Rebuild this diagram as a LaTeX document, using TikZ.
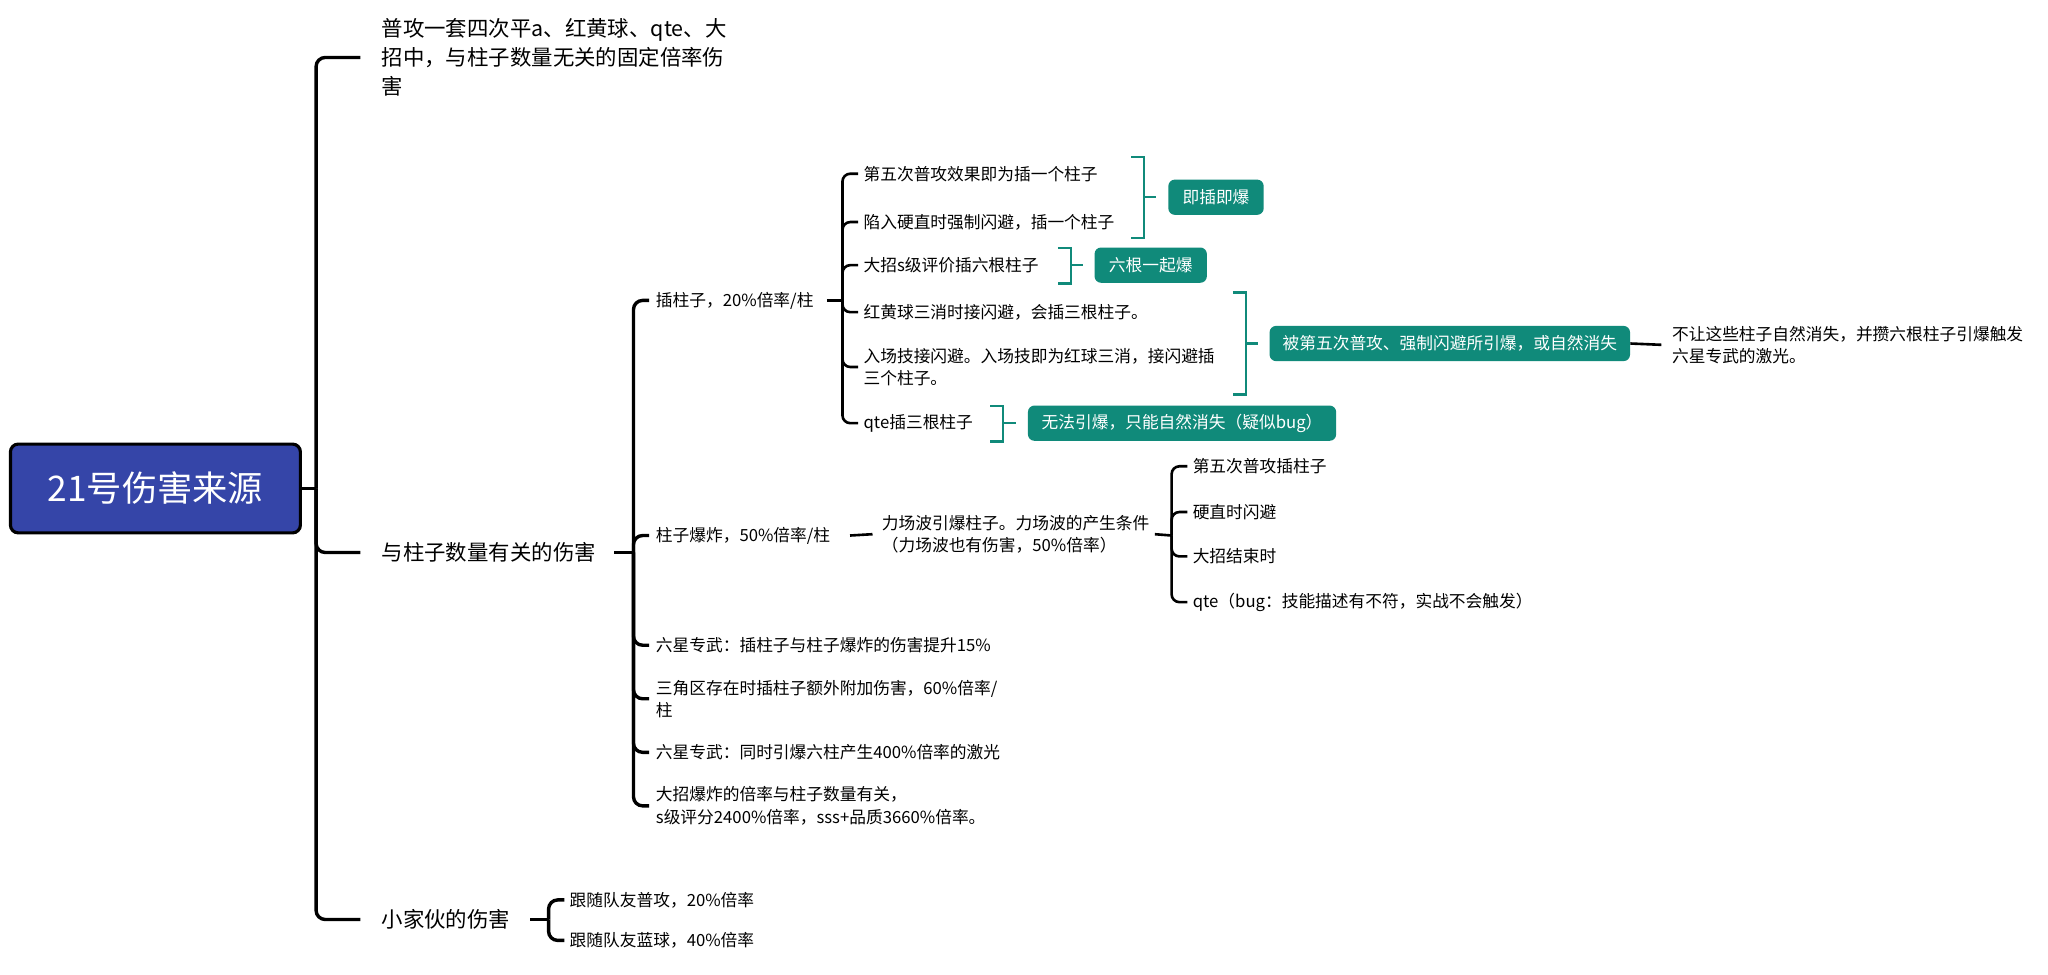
\documentclass[tikz,border=0pt]{standalone}
\usepackage{fontspec}
\setmainfont{Noto Sans CJK SC}
\definecolor{rootblue}{RGB}{53,69,168}
\definecolor{tealc}{RGB}{16,138,122}
\begin{document}
\begin{tikzpicture}[x=1pt,y=-1pt,
  conn/.style={line width=2.6pt, rounded corners=7pt},
  conn2/.style={line width=2pt, rounded corners=6pt},
  tline/.style={draw=tealc, line width=1.8pt},
  l1/.style={anchor=west, inner sep=0pt, font=\fontsize{16.4}{22}\selectfont, align=left},
  l2/.style={anchor=west, inner sep=0pt, font=\fontsize{12.8}{17}\selectfont, align=left},
  sumbox/.style={fill=tealc, rounded corners=5pt, text=white, font=\fontsize{12.8}{15}\selectfont, minimum height=27pt, inner xsep=8pt},
]
\useasboundingbox (0,0) rectangle (1568,746);
\fill[white] (0,0) rectangle (1568,746);

% root
\node[draw=black, line width=2.4pt, fill=rootblue, rounded corners=6pt, minimum width=222pt, minimum height=68pt, text=white, font=\fontsize{27}{30}\selectfont] (root) at (119,374) {21号伤害来源};

% level 1
\node[l1] (n1) at (292,44) {普攻一套四次平a、红黄球、qte、大\\招中，与柱子数量无关的固定倍率伤\\害};
\node[l1] (n2) at (292,423) {与柱子数量有关的伤害};
\node[l1] (n3) at (292,704) {小家伙的伤害};
\coordinate (t1) at (242,374);
\draw[conn] (root.east) -- (t1);
\foreach \c in {n1,n2,n3} \draw[conn] (t1) |- ([xshift=-16pt]\c.west);

% level 2
\node[l2] (a1) at (502,230) {插柱子，20\%倍率/柱};
\node[l2] (a2) at (502,410) {柱子爆炸，50\%倍率/柱};
\node[l2] (a3) at (502,494) {六星专武：插柱子与柱子爆炸的伤害提升15\%};
\node[l2] (a4) at (502,535) {三角区存在时插柱子额外附加伤害，60\%倍率/\\柱};
\node[l2] (a5) at (502,576) {六星专武：同时引爆六柱产生400\%倍率的激光};
\node[l2] (a6) at (502,617) {大招爆炸的倍率与柱子数量有关，\\s级评分2400\%倍率，sss+品质3660\%倍率。};
\coordinate (t2) at (485,423);
\draw[conn] ([xshift=14pt]n2.east) -- (t2);
\foreach \c in {a1,a2,a3,a4,a5,a6} \draw[conn] (t2) |- ([xshift=-5pt]\c.west);

% level 3 under a1
\node[l2] (b1) at (661,133) {第五次普攻效果即为插一个柱子};
\node[l2] (b2) at (661,170) {陷入硬直时强制闪避，插一个柱子};
\node[l2] (b3) at (661,203) {大招s级评价插六根柱子};
\node[l2] (b4) at (661,239) {红黄球三消时接闪避，会插三根柱子。};
\node[l2] (b5) at (661,281) {入场技接闪避。入场技即为红球三消，接闪避插\\三个柱子。};
\node[l2] (b6) at (661,324) {qte插三根柱子};
\coordinate (t3) at (645,230);
\draw[conn2] ([xshift=10pt]a1.east) -- (t3);
\foreach \c in {b1,b2,b3,b4,b5,b6} \draw[conn2] (t3) |- ([xshift=-4pt]\c.west);

% summary boxes
\node[sumbox, minimum width=73pt] (s1) at (931,151) {即插即爆};
\node[sumbox, minimum width=86pt] (s2) at (881,203) {六根一起爆};
\node[sumbox, minimum width=276pt] (s3) at (1110,263) {被第五次普攻、强制闪避所引爆，或自然消失};
\node[sumbox, minimum width=236pt] (s4) at (905,324) {无法引爆，只能自然消失（疑似bug）};

\coordinate (k1t) at (876,120); \coordinate (k1b) at (876,182); \coordinate (k1m) at (876,151);
\coordinate (k2t) at (820,190); \coordinate (k2b) at (820,217); \coordinate (k2m) at (820,203);
\coordinate (k3t) at (954,224); \coordinate (k3b) at (954,302); \coordinate (k3m) at (954,263);
\coordinate (k4t) at (768,311); \coordinate (k4b) at (768,338); \coordinate (k4m) at (768,324);
\foreach \k/\s in {k1/s1,k2/s2,k3/s3,k4/s4}{
  \draw[tline] ([xshift=-10pt]\k t) -- (\k t) -- (\k b) -- ([xshift=-10pt]\k b);
  \draw[tline] (\k m) -- ([xshift=-9pt]\s.west);
}

\node[l2] (c1) at (1280,264) {不让这些柱子自然消失，并攒六根柱子引爆触发\\六星专武的激光。};
\draw[conn2] (s3.east) -- ([xshift=-8pt]c1.west);

% level 3 under a2
\node[l2] (c2) at (675,409) {力场波引爆柱子。力场波的产生条件\\（力场波也有伤害，50\%倍率）};
\draw[conn2] ([xshift=15pt]a2.east) -- ([xshift=-7pt]c2.west);
\node[l2] (d1) at (913,357) {第五次普攻插柱子};
\node[l2] (d2) at (913,392) {硬直时闪避};
\node[l2] (d3) at (913,426) {大招结束时};
\node[l2] (d4) at (913,461) {qte（bug：技能描述有不符，实战不会触发）};
\coordinate (t4) at (897,410);
\draw[conn2] ([xshift=4pt]c2.east) -- (t4);
\foreach \c in {d1,d2,d3,d4} \draw[conn2] (t4) |- ([xshift=-4pt]\c.west);

% level 2 under n3
\node[l2] (e1) at (436,689) {跟随队友普攻，20\%倍率};
\node[l2] (e2) at (436,720) {跟随队友蓝球，40\%倍率};
\coordinate (t5) at (420,704);
\draw[conn] ([xshift=15pt]n3.east) -- (t5);
\foreach \c in {e1,e2} \draw[conn] (t5) |- ([xshift=-4pt]\c.west);
\end{tikzpicture}
\end{document}
